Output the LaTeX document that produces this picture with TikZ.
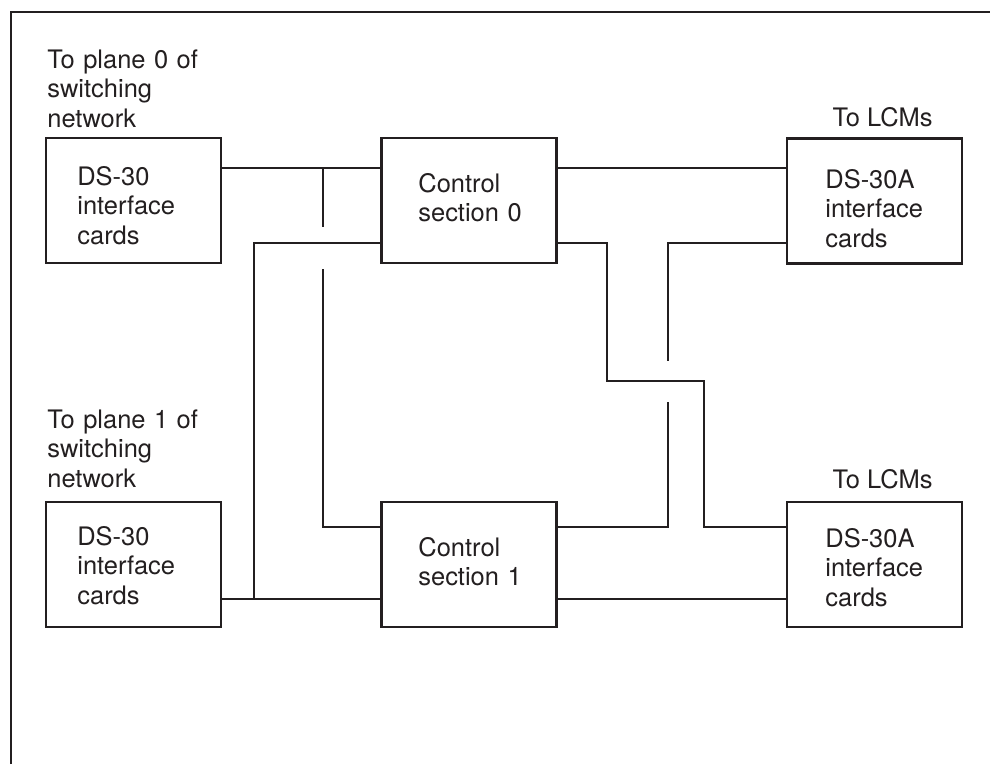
\documentclass[tikz,border=0pt]{standalone}
\usepackage{fontspec}
\setmainfont{TeX Gyre Heros}
\usepackage{tikz}
\usetikzlibrary{calc}
\definecolor{ink}{RGB}{35,31,32}

\begin{document}
\begin{tikzpicture}[x=0.02cm, y=-0.02cm,
  every node/.style={text=ink, font=\fontsize{14.5}{17.07}\selectfont},
  card/.style={draw=ink, line width=1.2pt, minimum width=3.5cm, minimum height=2.5cm, inner sep=0pt},
  txt/.style={inner sep=0pt, anchor=base west, align=left, text width=3.6cm},
  wire/.style={draw=ink, line width=1.6pt}]
  \useasboundingbox (0,0) rectangle (990,764);
  % frame
  \draw[ink, line width=0.6pt] (11,764) -- (11,12) -- (990,12);
  % cards
  \node[card] (ds0) at (133.5,200.5) {};
  \node[card] (cs0) at (469,200.5) {};
  \node[card] (lc0) at (874.5,201) {};
  \node[card] (ds1) at (133.5,564.5) {};
  \node[card] (cs1) at (469,564.5) {};
  \node[card] (lc1) at (874.5,564.5) {};
  % texts
  \node[txt] (pl0) at (47,68) {To plane 0 of\\switching\\network};
  \node[txt] (pl1) at (47,428) {To plane 1 of\\switching\\network};
  \node[inner sep=0pt, anchor=base east] (lcm0) at (933,126) {To LCMs};
  \node[inner sep=0pt, anchor=base east] (lcm1) at (933,488) {To LCMs};
  \node[txt] (ds0t) at (77,185) {DS-30\\interface\\cards};
  \node[txt] (ds1t) at (77,545) {DS-30\\interface\\cards};
  \node[txt] (cs0t) at (418,192) {Control\\section 0};
  \node[txt] (cs1t) at (418,556) {Control\\section 1};
  \node[txt] (lc0t) at (825,188) {DS-30A\\interface\\cards};
  \node[txt] (lc1t) at (825,547) {DS-30A\\interface\\cards};
  % wire rows and columns
  \coordinate (ytop) at (0,168);
  \coordinate (ymid) at (0,243);
  \coordinate (ycross) at (0,381);
  \coordinate (ylow) at (0,527);
  \coordinate (ybot) at (0,599);
  \coordinate (xa) at (254,0);
  \coordinate (xb) at (323,0);
  \coordinate (xc) at (607,0);
  \coordinate (xd) at (668,0);
  \coordinate (xe) at (704,0);
  % wires
  \draw[wire] (ds0.east |- ytop) -- (cs0.west |- ytop);
  \draw[wire] (xb |- ytop) -- ++(0,59);
  \draw[wire] ($(xb |- ymid)+(0,26)$) |- (cs1.west |- ylow);
  \draw[wire] (cs0.west |- ymid) -| (xa |- ybot);
  \draw[wire] (ds1.east |- ybot) -- (cs1.west |- ybot);
  \draw[wire] (cs0.east |- ytop) -- (lc0.west |- ytop);
  \draw[wire] (cs0.east |- ymid) -| (xc |- ycross) -| (xe |- ylow) -- (lc1.west |- ylow);
  \draw[wire] (lc0.west |- ymid) -| ($(xd |- ycross)+(0,-20)$);
  \draw[wire] ($(xd |- ycross)+(0,21)$) |- (cs1.east |- ylow);
  \draw[wire] (cs1.east |- ybot) -- (lc1.west |- ybot);
\end{tikzpicture}
\end{document}
